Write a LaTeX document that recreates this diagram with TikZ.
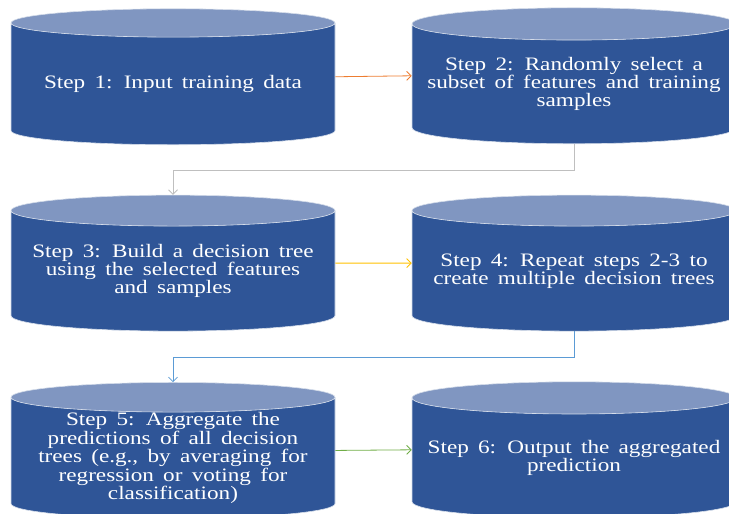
\documentclass[tikz,border=0pt]{standalone}
\usepackage{fontspec}
\setmainfont{Liberation Serif}[FakeStretch=1.22,WordSpace=1.6]
\usetikzlibrary{shapes.geometric,arrows.meta}
\definecolor{canbody}{RGB}{47,85,151}
\definecolor{cantop}{RGB}{128,150,193}
\definecolor{arrorange}{RGB}{237,125,49}
\definecolor{arrgray}{RGB}{191,191,191}
\definecolor{arryellow}{RGB}{255,192,0}
\definecolor{arrblue}{RGB}{91,155,213}
\definecolor{arrgreen}{RGB}{112,173,71}

\begin{document}
\begin{tikzpicture}
	[x=1pt,y=-1pt,node distance=401pt,>={Straight Barb[length=4.5pt,width=9pt]}]
	\tikzstyle{can}=[cylinder, shape border rotate=90, aspect=0.11,
		minimum width=324pt, minimum height=136pt, inner sep=0pt,
		cylinder uses custom fill, cylinder body fill=canbody, cylinder end fill=cantop,
		draw=white!80!canbody, line width=0.6pt, text=white, align=center,
		font=\fontsize{19}{17}\selectfont]
	\tikzstyle{link}=[->, line width=0.8pt]

	\useasboundingbox (0,0) rectangle (729,514);
	\clip (0,0) rectangle (729,514);

	\node[can] (S1) at (173,84) {Step 1: Input training data};
	\node[can] (S2) [right of=S1] {Step 2: Randomly select a\\subset of features and training\\samples};
	\node[can] (S3) [below of=S1, node distance=187pt] {Step 3: Build a decision tree\\using the selected features\\and samples};
	\node[can] (S4) [right of=S3] {Step 4: Repeat steps 2-3 to\\create multiple decision trees};
	\node[can] (S5) [below of=S3, node distance=187pt] {Step 5: Aggregate the\\predictions of all decision\\trees (e.g., by averaging for\\regression or voting for\\classification)};
	\node[can] (S6) [right of=S5] {Step 6: Output the aggregated\\prediction};

	\path
	(S1.east |- S1.shape center) edge[link,arrorange] (S2.west |- S2.shape center)
	(S3.east |- S3.shape center) edge[link,arryellow] (S4.west |- S4.shape center)
	(S5.east |- S5.shape center) edge[link,arrgreen] (S6.west |- S6.shape center);

	\draw[link,arrgray] (S2.south) -- ++(0,26) -| (S3.north);
	\draw[link,arrblue] (S4.south) -- ++(0,26) -| (S5.north);

\end{tikzpicture}
\end{document}
